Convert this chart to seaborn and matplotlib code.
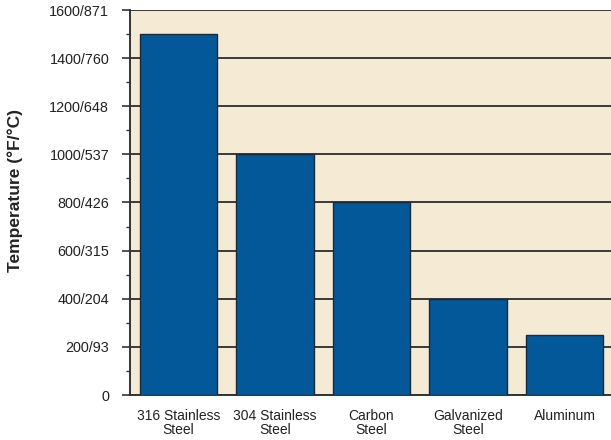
import matplotlib
matplotlib.use("Agg")
import matplotlib.pyplot as plt
import seaborn as sns
import pandas as pd
from matplotlib.ticker import MultipleLocator, FixedLocator

# Maximum service temperatures by material (°F)
materials = ["316 Stainless\nSteel", "304 Stainless\nSteel", "Carbon\nSteel",
             "Galvanized\nSteel", "Aluminum"]
max_temp_f = [1500, 1000, 800, 400, 250]
tick_values = [0, 200, 400, 600, 800, 1000, 1200, 1400, 1600]
tick_labels = ["0", "200/93", "400/204", "600/315", "800/426", "1000/537",
               "1200/648", "1400/760", "1600/871"]

sns.set_style("white")
plt.rcParams["font.family"] = ["Liberation Sans", "DejaVu Sans"]

df = pd.DataFrame({"material": materials, "temp": max_temp_f})

fig = plt.figure(figsize=(6.11, 4.40), dpi=100)
ax = fig.add_axes([130 / 611, 45 / 440, 483 / 611, 385 / 440])
ax.set_facecolor("#F5EAD4")

sns.barplot(data=df, x="material", y="temp", color="#03589A", saturation=1,
            width=0.8, edgecolor="#1c2a3a", linewidth=1.0, ax=ax, zorder=3)

ax.set_ylim(0, 1600)
ax.set_xlim(-0.5, 4.5)
ax.yaxis.set_major_locator(FixedLocator(tick_values))
ax.set_yticklabels(tick_labels)
ax.yaxis.set_minor_locator(MultipleLocator(100))
ax.grid(axis="y", which="major", color="#3a3a3a", linewidth=1.4, zorder=1)
ax.set_axisbelow(True)

ax.tick_params(axis="y", which="major", direction="out", length=6, width=1.2,
               color="#333333", labelsize=10.4, labelcolor="#222222", pad=9, left=True)
ax.tick_params(axis="y", which="minor", direction="out", length=3, width=1.0,
               color="#333333", left=True)
ax.tick_params(axis="x", length=0, labelsize=10, labelcolor="#222222", pad=10)
for lbl in ax.get_xticklabels():
    lbl.set_linespacing(1.0)

for s in ["top", "right"]:
    ax.spines[s].set_visible(False)
for s in ["left", "bottom"]:
    ax.spines[s].set_color("#333333")
    ax.spines[s].set_linewidth(1.4)

ax.set_xlabel("")
ax.set_ylabel("Temperature (°F/°C)", fontsize=12.5, fontweight="bold",
              color="#222222")
ax.yaxis.set_label_coords(-0.222, 0.532)

fig.savefig("out.png", dpi=100)
